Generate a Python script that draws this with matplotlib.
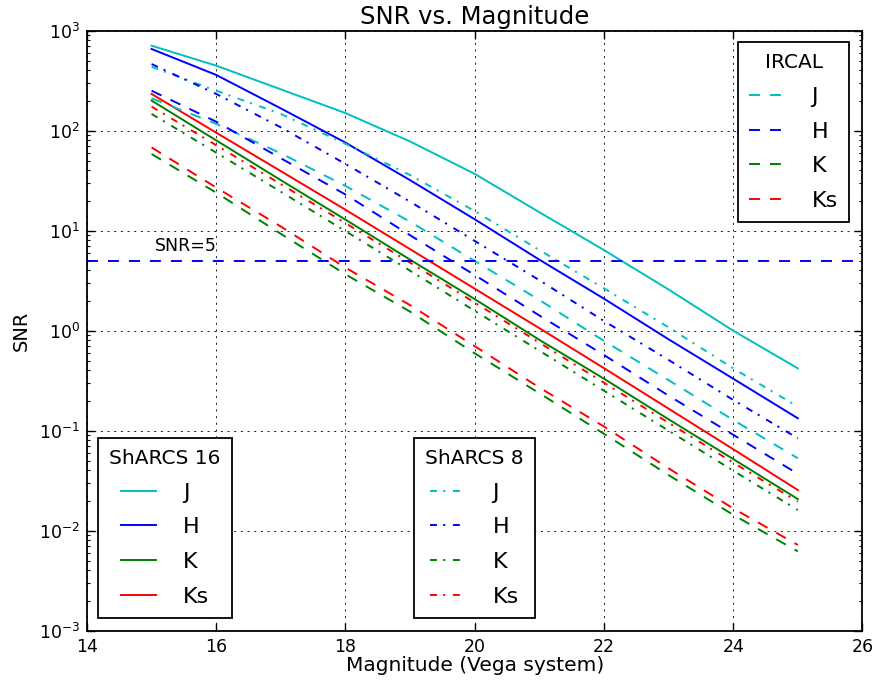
import matplotlib
matplotlib.use('Agg')
import matplotlib.pyplot as plt

mag = [15, 16, 17, 18, 19, 20, 21, 22, 23, 24, 25]

# ShARCS 16 (solid)
s16_J = [708, 447, 259, 150, 78, 37, 15.3, 6.4, 2.58, 1.0, 0.42]
s16_H = [656, 361, 167, 76, 32, 13.0, 5.13, 2.09, 0.82, 0.331, 0.133]
s16_K = [200, 80, 32, 12.9, 5.13, 2.07, 0.81, 0.331, 0.130, 0.052, 0.0207]
s16_Ks = [233, 95.5, 39.4, 16.2, 6.53, 2.63, 1.06, 0.422, 0.166, 0.0653, 0.0255]

# ShARCS 8 (dash-dot)
s8_J = [436, 251, 147, 74, 36, 15.7, 6.4, 2.65, 1.08, 0.42, 0.174]
s8_H = [464, 233, 108, 46.5, 19.5, 7.9, 3.2, 1.25, 0.51, 0.203, 0.084]
s8_K = [147, 60.3, 24.5, 9.9, 3.98, 1.58, 0.631, 0.251, 0.100, 0.0398, 0.0161]
s8_Ks = [174, 71.6, 29.2, 11.9, 4.79, 1.91, 0.759, 0.302, 0.120, 0.0479, 0.0195]

# IRCAL (dashed)
ir_J = [211, 117, 59.4, 28, 12.3, 4.98, 2.03, 0.79, 0.32, 0.128, 0.053]
ir_H = [251, 123, 53, 23, 9.0, 3.6, 1.42, 0.571, 0.224, 0.091, 0.037]
ir_K = [58.5, 24, 9.3, 3.66, 1.55, 0.594, 0.237, 0.093, 0.036, 0.0144, 0.0062]
ir_Ks = [68, 27, 11, 4.27, 1.8, 0.70, 0.27, 0.11, 0.042, 0.0167, 0.0072]

bands = ['J', 'H', 'K', 'Ks']
band_colors = ['c', 'b', 'g', 'r']
snr_limit = 5

plt.rcParams['lines.scale_dashes'] = False
plt.rcParams['font.family'] = 'DejaVu Sans'

dashed = (0, (7.9, 7.2))
dashdot = (0, (5, 4.5, 1.5, 5.5))
lw = 1.4

fig = plt.figure(figsize=(8.74, 6.85), dpi=100)
ax = fig.add_axes([0.0995, 0.0793, 0.8873, 0.8759])

sets = [
    ('ShARCS 16', [s16_J, s16_H, s16_K, s16_Ks], '-'),
    ('ShARCS 8', [s8_J, s8_H, s8_K, s8_Ks], dashdot),
    ('IRCAL', [ir_J, ir_H, ir_K, ir_Ks], dashed),
]
handles = {}
for name, curves, ls in sets:
    handles[name] = []
    for snr, col in zip(curves, band_colors):
        ln, = ax.plot(mag, snr, color=col, ls=ls, lw=lw)
        handles[name].append(ln)

ax.axhline(snr_limit, color='b', ls=dashed, lw=lw)
ax.text(15.05, 6.3, 'SNR=5', fontsize=12.5)

ax.set_yscale('log')
ax.set_xlim(14, 26)
ax.set_ylim(1e-3, 1e3)
ax.set_xticks(range(14, 27, 2))

ax.grid(True, which='major', color='k', ls=(0, (1.5, 3.3)), lw=0.6)
ax.tick_params(which='both', direction='in', top=True, right=True, labelsize=12.5)
ax.tick_params(which='major', length=5.5, width=1, pad=5)
ax.tick_params(which='minor', length=2.5, width=0.8)
for sp in ax.spines.values():
    sp.set_linewidth(1.3)

ax.set_title('SNR vs. Magnitude', fontsize=17.5, pad=5)
ax.set_xlabel('Magnitude (Vega system)', fontsize=14.5, labelpad=0)
ax.set_ylabel('SNR', fontsize=14, labelpad=6)

leg_kw = dict(fontsize=16, title_fontsize=14.5, handlelength=1.6, handletextpad=1.2,
              labelspacing=0.66, borderpad=0.5, fancybox=False, edgecolor='k',
              framealpha=1, borderaxespad=0)

leg1 = ax.legend(handles['IRCAL'], bands, title='IRCAL', loc='upper right',
                 bbox_to_anchor=(0.9826, 0.981), **leg_kw)
leg1.get_frame().set_linewidth(1.3)
ax.add_artist(leg1)

leg2 = ax.legend(handles['ShARCS 16'], bands, title='ShARCS 16', loc='lower left',
                 bbox_to_anchor=(0.0146, 0.0217), **leg_kw)
leg2.get_frame().set_linewidth(1.3)
ax.add_artist(leg2)

leg3 = ax.legend(handles['ShARCS 8'], bands, title='ShARCS 8', loc='lower left',
                 bbox_to_anchor=(0.4217, 0.0217), **leg_kw)
leg3.get_frame().set_linewidth(1.3)

fig.savefig('out.png', dpi=100)
